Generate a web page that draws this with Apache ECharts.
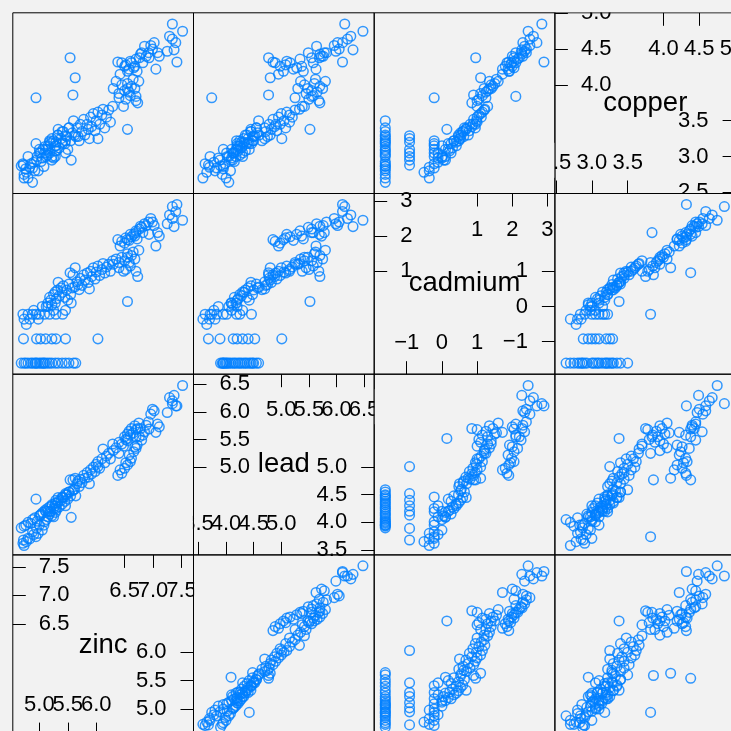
<!DOCTYPE html>
<html><head><meta charset="utf-8">
<script src="https://cdn.jsdelivr.net/npm/echarts@6/dist/echarts.min.js"></script>
<style>html,body{margin:0;padding:0;background:#f2f2f2}#c{width:731px;height:731px}</style>
</head><body><div id="c"></div>
<script>
// log-scale values (natural log) as read from the scatterplot matrix
const varNames = ['zinc', 'lead', 'cadmium', 'copper'];
const zinc = [
  7.52,7.34,7.42,7.29,7.34,7.25,7.37,7.40,
  6.96,7.02,7.08,7.05,6.93,7.11,6.99,
  6.38,6.45,6.50,6.42,6.55,6.60,6.62,6.58,6.70,6.68,6.72,6.80,6.76,6.82,6.85,6.78,6.88,6.92,6.52,6.66,
  6.30,6.35,6.40,6.45,6.50,6.52,6.55,6.58,6.60,6.62,6.65,6.68,6.70,6.73,6.75,6.48,6.40,6.55,
  6.55,6.70,
  5.62,5.66,5.70,5.72,5.75,5.78,5.80,5.84,5.86,5.90,5.92,5.95,5.98,6.00,6.03,6.06,6.10,6.12,6.15,6.18,6.22,6.25,6.29,5.68,5.88,
  6.03,
  5.12,5.15,5.18,5.20,5.22,5.25,5.28,5.30,5.32,5.35,5.38,5.40,5.42,5.45,5.48,5.50,5.52,5.55,5.58,5.56,5.28,5.33,5.46,5.25,5.15,
  4.71,4.80,4.88,5.00,5.09,5.18,5.29,5.41,4.94,
  4.72,4.95,5.02,5.11,5.22,5.29,5.46,
  4.68,4.73,4.76,4.80,4.85,4.88,4.92,4.96,5.00,5.03,5.06,5.10,5.14,5.18,5.22,5.28,5.33,5.40,5.46,5.52,5.60,4.94,5.64,5.08,
  5.54,5.63,5.59,
  4.73,4.77,4.83,4.90,5.05,4.98
];
const lead = [
  6.48,6.15,6.11,6.26,6.20,5.99,6.30,6.11,
  5.96,6.02,5.78,5.63,5.69,5.73,6.05,
  4.85,4.89,4.98,4.95,5.04,5.10,5.16,5.22,5.34,5.37,5.40,5.49,5.55,5.58,5.64,5.70,5.76,5.82,5.08,5.28,
  5.30,5.35,5.45,5.42,5.55,5.50,5.60,5.65,5.58,5.70,5.62,5.75,5.68,5.70,5.80,5.38,5.25,5.48,
  5.52,5.55,
  4.60,4.70,4.65,4.78,4.72,4.85,4.80,4.90,4.82,4.95,4.88,5.00,4.92,5.05,5.10,4.98,5.15,5.33,5.08,5.20,5.25,5.15,5.42,4.75,4.70,
  5.01,
  4.05,4.10,4.15,4.20,4.12,4.25,4.30,4.22,4.35,4.28,4.40,4.33,4.45,4.38,4.50,4.42,4.55,4.48,4.57,4.09,4.18,4.45,4.30,4.10,4.20,
  3.62,3.71,3.83,3.95,4.01,4.19,4.25,4.46,3.74,
  3.68,3.89,4.13,4.20,4.30,4.40,4.52,
  3.90,3.93,3.95,4.00,3.98,4.05,4.08,4.02,4.12,4.15,4.18,4.22,4.25,4.28,4.32,4.35,4.38,4.45,4.50,4.55,4.59,4.42,4.48,3.95,
  4.77,4.80,4.77,
  3.58,3.65,3.70,3.78,3.86,3.80
];
const cadmium = [
  2.45,2.84,2.90,2.60,2.50,2.35,2.27,2.70,
  2.50,2.30,2.10,1.72,2.05,2.00,2.40,
  1.90,1.85,1.80,1.72,1.90,2.05,1.98,1.88,2.15,2.00,1.92,2.25,2.20,2.10,2.35,2.28,2.30,2.40,1.95,2.05,
  1.20,1.35,1.10,1.40,1.30,1.05,1.50,1.25,1.15,1.45,1.55,1.35,1.00,0.85,1.60,1.00,1.25,1.40,
  0.14,2.10,
  0.55,0.70,0.48,0.80,0.60,0.90,0.75,0.95,0.68,1.00,0.85,1.10,0.78,0.98,1.15,0.88,1.05,1.22,0.95,1.12,1.20,1.00,1.30,0.62,0.50,
  -0.92,
  0.00,0.10,0.26,0.18,0.05,0.34,0.41,0.22,0.47,0.30,0.53,0.40,0.59,0.26,0.47,0.18,0.64,0.34,0.53,0.10,0.10,0.69,-0.11,-0.11,0.00,
  -0.22,-0.22,-0.22,-0.22,-0.22,-0.22,-0.22,-0.22,-0.22,
  -0.92,-0.92,-0.92,-0.92,-0.92,-0.92,-0.92,
  -1.61,-1.61,-1.61,-1.61,-1.61,-1.61,-1.61,-1.61,-1.61,-1.61,-1.61,-1.61,-1.61,-1.61,-1.61,-1.61,-1.61,-1.61,-1.61,-1.61,-1.61,-1.61,-1.61,-1.61,
  0.96,1.10,0.90,
  -0.36,-0.51,-0.36,-0.11,0.00,-0.36
];
const copper = [
  4.75,4.85,4.32,4.68,4.64,4.47,4.49,4.59,
  4.55,4.59,4.45,4.22,4.38,4.40,4.50,
  4.32,4.31,4.26,4.15,4.19,4.33,4.31,4.22,4.36,4.26,4.19,4.45,4.38,4.31,4.54,4.43,4.40,4.45,4.28,4.24,
  3.95,4.05,3.88,4.00,3.92,3.80,4.02,3.90,3.85,3.98,4.08,3.95,3.78,3.75,4.05,3.70,3.82,3.95,
  3.38,3.84,
  3.30,3.40,3.22,3.45,3.35,3.52,3.30,3.45,3.38,3.55,3.42,3.60,3.36,3.50,3.62,3.45,3.58,3.66,3.40,3.55,3.65,3.48,3.70,3.28,3.25,
  3.25,
  3.00,3.10,3.05,3.18,2.95,3.22,3.15,3.08,3.30,3.12,3.25,3.20,3.35,3.18,3.28,3.10,3.40,3.22,3.33,2.95,3.00,3.38,3.05,2.98,3.15,
  2.90,3.00,2.84,3.10,3.05,3.22,3.15,3.18,3.82,
  2.88,2.95,3.05,3.10,3.00,3.20,3.29,
  2.87,2.75,2.83,2.70,2.90,2.64,2.80,3.00,3.05,2.93,3.10,3.14,3.02,3.20,3.25,3.08,3.30,3.35,3.22,3.40,3.50,3.18,3.28,2.86,
  4.38,4.10,3.86,
  2.70,2.78,2.85,2.92,2.98,2.80
];
// axis ranges and tick labels of the diagonal panels
const axisMin = [4.532, 3.410, -1.925, 2.484];
const axisMax = [7.712, 6.684, 3.211, 5.007];
const upperTicks = [[6.5, 7, 7.5], [5, 5.5, 6, 6.5], [1, 2, 3], [4, 4.5, 5]];
const lowerTicks = [[5, 5.5, 6], [3.5, 4, 4.5, 5], [-1, 0, 1], [2.5, 3, 3.5]];

const values = [zinc, lead, cadmium, copper];
const ORIGIN_X = 12.8, ORIGIN_Y = 12.8, P = 180.7;
const BG = '#f2f2f2';
const FONT = '"Liberation Sans", Arial, sans-serif';
const grids = [], xAxes = [], yAxes = [], series = [], graphics = [];

function fmt(vi) {
  return function (v) {
    if (vi === 2) { return v < 0 ? '\u2212' + Math.abs(v) : String(v); }
    return Number(v).toFixed(1);
  };
}
const colL = (c) => ORIGIN_X + c * P;
const rowT = (r) => ORIGIN_Y + r * P;

for (let r = 0; r < 4; r++) {
  for (let c = 0; c < 4; c++) {
    const xi = c, yi = 3 - r;
    const gi = grids.length;
    const left = colL(c), top = rowT(r);
    grids.push({ left: left, top: top, width: P, height: P, show: true,
      outerBoundsMode: 'none', containLabel: false,
      borderColor: '#000', borderWidth: 1, backgroundColor: 'transparent' });
    if (xi !== yi) {
      const xa = xAxes.length, ya = yAxes.length;
      xAxes.push({ type: 'value', gridIndex: gi, min: axisMin[xi], max: axisMax[xi], show: false });
      yAxes.push({ type: 'value', gridIndex: gi, min: axisMin[yi], max: axisMax[yi], show: false });
      series.push({
        type: 'scatter', xAxisIndex: xa, yAxisIndex: ya, clip: true, z: 3,
        symbol: 'circle', symbolSize: 9.6, silent: true,
        itemStyle: { color: 'rgba(0,0,0,0)', borderColor: '#0080ff', borderWidth: 1.5 },
        data: values[xi].map((v, k) => [v, values[yi][k]])
      });
    } else {
      const vi = xi;
      const base = {
        type: 'value', gridIndex: gi, min: axisMin[vi], max: axisMax[vi],
        axisLine: { show: false, onZero: false }, splitLine: { show: false }
      };
      const tick = (vals) => ({ show: true, inside: true, length: 13, customValues: vals,
        lineStyle: { color: '#000', width: 1 } });
      const lab = (vals, margin) => ({ show: true, inside: true, customValues: vals, margin: margin,
        interval: 0, fontSize: 22, color: '#000', fontFamily: FONT, formatter: fmt(vi), hideOverlap: false,
        showMinLabel: true, showMaxLabel: true });
      // horizontal labels overlap slightly, so alternate values go on two coincident axes
      const split = (vals) => [vals.filter((v, k) => k % 2 === 0), vals.filter((v, k) => k % 2 === 1)];
      split(upperTicks[vi]).forEach(vals => xAxes.push(Object.assign({}, base,
        { position: 'top', axisTick: tick(vals), axisLabel: lab(vals, 25) })));
      split(lowerTicks[vi]).forEach(vals => xAxes.push(Object.assign({}, base,
        { position: 'bottom', axisTick: tick(vals), axisLabel: lab(vals, 20) })));
      yAxes.push(Object.assign({}, base, { position: 'left', axisTick: tick(upperTicks[vi]), axisLabel: lab(upperTicks[vi], 26) }));
      yAxes.push(Object.assign({}, base, { position: 'right', axisTick: tick(lowerTicks[vi]), axisLabel: lab(lowerTicks[vi], 27) }));
      graphics.push({ type: 'text', x: left + P / 2, y: top + P / 2, z: 2,
        style: { text: varNames[vi], fontSize: 27.5, fontFamily: FONT, fill: '#000',
          align: 'center', verticalAlign: 'middle' } });
    }
  }
}

// tick labels are clipped at their panel's border, as in the original; mask the overflow
function mask(x0, y0, x1, y1) {
  graphics.push({ type: 'rect', z: 1, silent: true,
    shape: { x: x0, y: y0, width: x1 - x0, height: y1 - y0 }, style: { fill: BG } });
}
mask(colL(1) - 18, rowT(2) + P - 45, colL(1) - 0.6, rowT(2) + P - 15);   // lead bottom-left
mask(colL(2) + 0.6, rowT(2) + 15, colL(2) + 14, rowT(2) + 50);          // lead top-right
mask(colL(1) + 0.6, rowT(3) + 15, colL(1) + 14, rowT(3) + 55);          // zinc top-right
mask(colL(3) + 0.6, 0, 731, rowT(0) - 0.6);                             // copper top
mask(colL(3) - 20, rowT(0) + 130, colL(3) - 0.6, rowT(0) + 165);       // copper bottom-left
mask(colL(3) + 120, rowT(1) + 0.6, colL(3) + 160, rowT(1) + 8);        // copper right bottom

const chart = echarts.init(document.getElementById('c'), null, { renderer: 'canvas' });
chart.setOption({
  backgroundColor: BG,
  animation: false,
  grid: grids, xAxis: xAxes, yAxis: yAxes, series: series,
  graphic: graphics
});
</script></body></html>
